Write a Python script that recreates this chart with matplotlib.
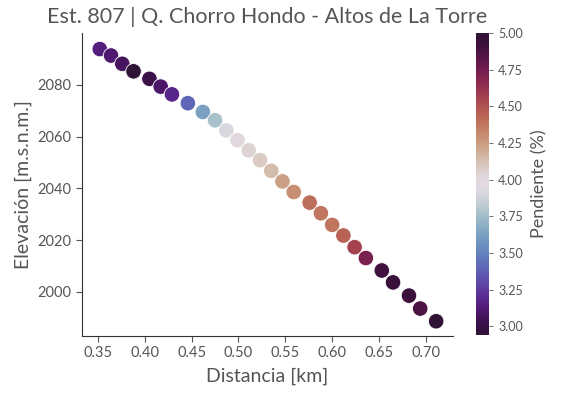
import numpy as np
import matplotlib
matplotlib.use('Agg')
from matplotlib import pyplot as plt

# Perfil de la quebrada
distancia = [0.352, 0.364, 0.376, 0.388, 0.405, 0.417, 0.429, 0.446, 0.462,
             0.475, 0.487, 0.499, 0.511, 0.523, 0.535, 0.547, 0.559, 0.576,
             0.588, 0.600, 0.612, 0.624, 0.636, 0.653, 0.665, 0.682, 0.694,
             0.711]
elevacion = [2093.8, 2091.3, 2088.1, 2085.2, 2082.3, 2079.3, 2076.3, 2072.9,
             2069.5, 2066.3, 2062.4, 2058.6, 2054.7, 2050.9, 2046.8, 2042.7,
             2038.6, 2034.5, 2030.4, 2025.9, 2021.8, 2017.3, 2013.1, 2008.3,
             2003.7, 1998.6, 1993.6, 1988.7]
pendiente = [3.15, 3.12, 3.07, 2.94, 3.02, 3.10, 3.18, 3.40, 3.62,
             3.77, 3.92, 4.00, 4.04, 4.08, 4.14, 4.24, 4.30, 4.40,
             4.37, 4.38, 4.45, 4.56, 4.72, 4.90, 4.95, 4.93, 4.87,
             5.00]

gris = '#555555'
plt.rcParams['font.family'] = ['Lato', 'DejaVu Sans']
plt.rcParams['text.color'] = gris
plt.rcParams['axes.labelcolor'] = gris
plt.rcParams['xtick.color'] = gris
plt.rcParams['ytick.color'] = gris

fig = plt.figure(figsize=(5.64, 3.99), dpi=100)
ax = fig.add_axes([82/564, 1 - 336/399, 371/564, 303/399])
cax = fig.add_axes([476/564, 1 - 335/399, 13/564, 302/399])

sc = ax.scatter(distancia, elevacion, c=pendiente, cmap='twilight_shifted',
                vmin=min(pendiente), vmax=max(pendiente), s=125,
                edgecolor='white', linewidth=0.6, zorder=3)

ax.set_xlim(0.333, 0.729)
ax.set_ylim(1983, 2100)
ax.set_xticks(np.arange(0.35, 0.71, 0.05))
ax.set_yticks([2000, 2020, 2040, 2060, 2080])
ax.spines['top'].set_visible(False)
ax.spines['right'].set_visible(False)
for s in ['left', 'bottom']:
    ax.spines[s].set_color('#333333')
    ax.spines[s].set_linewidth(0.8)
ax.tick_params(labelsize=10.5, length=4, width=0.8)
ax.set_xlabel('Distancia [km]', fontsize=14, labelpad=5)
ax.set_ylabel('Elevación [m.s.n.m.]', fontsize=14)
ax.set_title('Est. 807 | Q. Chorro Hondo - Altos de La Torre', fontsize=15.5,
             pad=7)

cb = fig.colorbar(sc, cax=cax)
cb.outline.set_visible(False)
cb.set_ticks([3.0, 3.25, 3.5, 3.75, 4.0, 4.25, 4.5, 4.75, 5.0])
cb.ax.tick_params(labelsize=9, length=3, width=0.6)
cb.set_label('Pendiente (%)', fontsize=13, labelpad=6)

fig.savefig('out.png', dpi=100)
